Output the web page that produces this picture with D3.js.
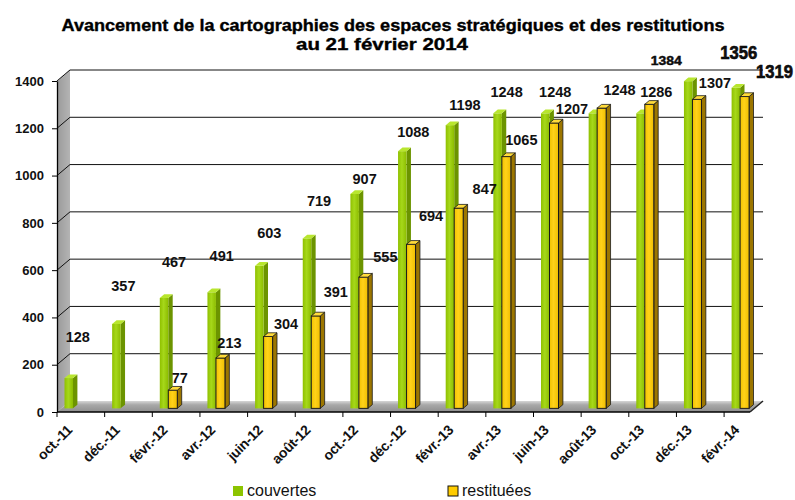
<!DOCTYPE html>
<html><head><meta charset="utf-8">
<script src="https://cdnjs.cloudflare.com/ajax/libs/d3/7.8.5/d3.min.js"></script>
<style>
html,body{margin:0;padding:0;background:#fff;}
svg{display:block;font-family:"Liberation Sans",Arial,sans-serif;}
</style></head>
<body>
<svg id="c" width="795" height="500"></svg>
<script>
// ---- data ----
const titleLines = ["Avancement de la cartographies des espaces stratégiques et des restitutions", "au 21 février 2014"];
const categories = ["oct.-11","déc.-11","févr.-12","avr.-12","juin-12","août-12","oct.-12","déc.-12","févr.-13","avr.-13","juin-13","août-13","oct.-13","déc.-13","févr.-14"];
const couvertes  = [128,357,467,491,603,719,907,1088,1198,1248,1248,1248,1248,1384,1356];
const restituees = [null,null,77,213,304,391,555,694,847,1065,1207,1270,1286,1307,1319];
const seriesNames = ["couvertes","restituées"];
const yTicks = [0,200,400,600,800,1000,1200,1400];

// ---- layout (label offsets from bar top, px; null = hidden) ----
const greenLabelOff = [[9,-37],[7,-34],[10,-32],[10,-33],[10,-29],[12,-34],[10,-11],[11,-15],[15,-16],[9,-18],[10,-18],null,[-21,-20],[-22,-16],[3,-31]];
const yellowLabelOff = [null,null,[7,-8],[9,-11],[18,-9],[20,-20],[22,-16],[20,-25],[26,-15],[15,-13],[18,-10],null,[7,-9],[18,-13],[30,-21]];

const svg = d3.select("#c");
const DX = 13, DY = -11;          // depth of the 3D box
const x = d3.scaleBand().domain(categories).range([57, 57 + 15*47.65]);
const y = d3.scaleLinear().domain([0,1400]).range([412, 81]);
const plotRight = 750;
const t1 = 0.33, bdx = 4.4, bdy = -3.7;   // bar front depth and bar depth
const gOff = 7.5, gW = 8.5, yOff = 16, yW = 9;

const defs = svg.append("defs");
function hGrad(id, stops){
  const g = defs.append("linearGradient").attr("id",id).attr("x1","0").attr("x2","1").attr("y1","0").attr("y2","0");
  stops.forEach(s=>g.append("stop").attr("offset",s[0]).attr("stop-color",s[1]));
}
hGrad("gFront",[[0,"#8fc000"],[0.45,"#a6d81a"],[1,"#8cbc00"]]);
hGrad("yFront",[[0,"#f2c200"],[0.45,"#ffd21a"],[1,"#f0be00"]]);
const fg = defs.append("linearGradient").attr("id","floor").attr("x1","0").attr("x2","0").attr("y1","0").attr("y2","1");
fg.append("stop").attr("offset",0).attr("stop-color","#d6d6d6");
fg.append("stop").attr("offset",0.35).attr("stop-color","#a8a8a8");
fg.append("stop").attr("offset",1).attr("stop-color","#8e8e8e");
const wg = defs.append("linearGradient").attr("id","wall").attr("x1","0").attr("x2","1").attr("y1","0").attr("y2","0");
wg.append("stop").attr("offset",0).attr("stop-color","#9a9a9a");
wg.append("stop").attr("offset",1).attr("stop-color","#b4b4b4");

// title
svg.append("text").attr("x",393).attr("y",31).attr("text-anchor","middle")
  .attr("font-size",16).attr("font-weight","bold").attr("textLength",663).attr("lengthAdjust","spacingAndGlyphs")
  .attr("stroke","#000").attr("stroke-width",0.35).text(titleLines[0]);
svg.append("text").attr("x",382).attr("y",50).attr("text-anchor","middle")
  .attr("font-size",16).attr("font-weight","bold").attr("textLength",172).attr("lengthAdjust","spacingAndGlyphs")
  .attr("stroke","#000").attr("stroke-width",0.35).text(titleLines[1]);

// left wall
const x0 = x.range()[0];
svg.append("path").attr("d",`M${x0},${y(0)}L${x0},${y(1400)}L${x0+DX},${y(1400)+DY}L${x0+DX},${y(0)+DY}Z`)
  .attr("fill","url(#wall)");
svg.append("path").attr("d",`M${x0},${y(1400)}L${x0+DX},${y(1400)+DY}`).attr("stroke","#d0d0d0").attr("stroke-width",1.2);

// gridlines (back wall + left wall diagonals)
yTicks.filter(v=>v>0).forEach(v=>{
  svg.append("path").attr("d",`M${x0},${y(v)}L${x0+DX},${y(v)+DY}L${plotRight+DX},${y(v)+DY}`)
    .attr("fill","none").attr("stroke","#111").attr("stroke-width",1);
});

// floor
svg.append("path").attr("d",`M${x0},${y(0)}L${plotRight},${y(0)}L${plotRight+DX},${y(0)+DY}L${x0+DX},${y(0)+DY}Z`)
  .attr("fill","url(#floor)");
svg.append("path").attr("d",`M${plotRight},${y(0)}L${plotRight+DX},${y(0)+DY}`).attr("stroke","#222").attr("stroke-width",1.5);

// bars
function bar(g, x1, w, v, front, side, cap, outline){
  const top = y(v) + DY*t1;
  const base = y(0) + DY*t1;
  const st = outline ? "#1a1a1a" : "none";
  g.append("path").attr("d",`M${x1+w},${base}L${x1+w+bdx},${base+bdy}L${x1+w+bdx},${top+bdy}L${x1+w},${top}Z`)
    .attr("fill",side).attr("stroke",st).attr("stroke-width",0.8);
  g.append("rect").attr("x",x1).attr("y",top).attr("width",w).attr("height",base-top)
    .attr("fill",front).attr("stroke",st).attr("stroke-width",1);
  g.append("path").attr("d",`M${x1},${top}L${x1+w},${top}L${x1+w+bdx},${top+bdy}L${x1+bdx},${top+bdy}Z`)
    .attr("fill",cap).attr("stroke",st).attr("stroke-width",0.8);
}
const bars = svg.append("g");
categories.forEach((c,i)=>{
  const g = bars.append("g");
  if (couvertes[i]!=null) bar(g, x(c)+gOff, gW, couvertes[i], "url(#gFront)", "#6c9400", "#b8e62e", false);
  if (restituees[i]!=null) bar(g, x(c)+yOff, yW, restituees[i], "url(#yFront)", "#9c7600", "#ffdb3a", true);
});

// axes
const yAxis = d3.axisLeft(y).tickValues(yTicks).tickFormat(d3.format("d")).tickSize(5).tickSizeOuter(0).tickPadding(8);
const ya = svg.append("g").attr("transform",`translate(${x0},0)`).call(yAxis);
ya.select(".domain").attr("stroke","#000").attr("stroke-width",1.3);
ya.selectAll(".tick line").attr("stroke","#000");
ya.selectAll(".tick text").attr("font-size",13).attr("font-weight","bold").attr("fill","#111")
  .attr("font-family","Liberation Sans, Arial, sans-serif");

svg.append("line").attr("x1",x0).attr("x2",plotRight).attr("y1",y(0)).attr("y2",y(0)).attr("stroke","#000").attr("stroke-width",1.3);
const xa = svg.append("g");
categories.forEach(c=>{
  xa.append("line").attr("x1",x(c)).attr("x2",x(c)).attr("y1",y(0)).attr("y2",y(0)+5).attr("stroke","#000");
  xa.append("text").attr("transform",`translate(${x(c)+16},${y(0)+19}) rotate(-45)`)
    .attr("text-anchor","end").attr("font-size",14).attr("font-weight","bold").attr("fill","#111")
    .attr("letter-spacing",-0.3).text(c);
});

// data labels
const lab = svg.append("g");
function addLabel(i, v, off, centerX, big, small){
  if (!off || v==null) return;
  const cx = centerX + off[0];
  const cy = y(v) + DY*t1 + bdy + off[1];
  const t = lab.append("text").attr("x",cx).attr("y",cy).attr("text-anchor","middle")
    .attr("dominant-baseline","central").attr("fill","#111").attr("font-weight","bold").text(v);
  if (big) t.attr("font-size",18).attr("stroke","#000").attr("stroke-width",0.6).attr("textLength",37).attr("lengthAdjust","spacingAndGlyphs");
  else if (small) t.attr("font-size",12).attr("stroke","#000").attr("stroke-width",0.4).attr("textLength",31).attr("lengthAdjust","spacingAndGlyphs");
  else t.attr("font-size",14.5);
}
categories.forEach((c,i)=>{
  addLabel(i, couvertes[i], greenLabelOff[i], x(c)+gOff+gW/2, i===14, i===13);
  addLabel(i, restituees[i], yellowLabelOff[i], x(c)+yOff+yW/2, i===14, false);
});

// legend
const legendX = [233, 448];
const legendFill = ["#8cc400","#ffcc00"];
seriesNames.forEach((n,i)=>{
  svg.append("rect").attr("x",legendX[i]).attr("y",486).attr("width",10).attr("height",10)
    .attr("fill",legendFill[i]).attr("stroke", i===1?"#111":"none").attr("stroke-width",1);
  svg.append("text").attr("x",legendX[i]+14).attr("y",496).attr("font-size",16).attr("fill","#111").text(n);
});
</script>
</body></html>
